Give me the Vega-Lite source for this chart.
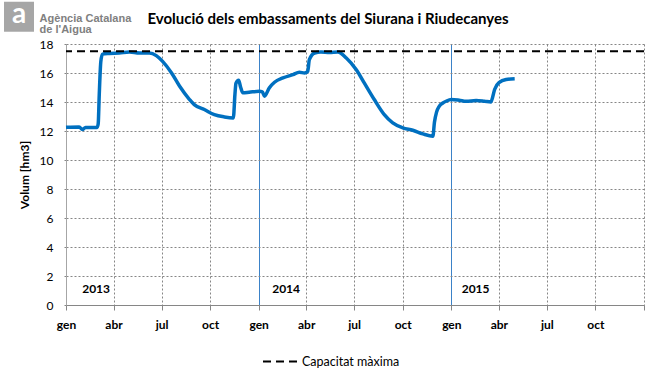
{
  "$schema": "https://vega.github.io/schema/vega-lite/v6.json",
  "width": 578,
  "height": 261,
  "autosize": "none",
  "padding": {"left": 66, "top": 44, "right": 11, "bottom": 74},
  "background": "white",
  "config": {
    "font": "Lato",
    "view": {"stroke": null},
    "axisY": {
      "values": [0, 2, 4, 6, 8, 10, 12, 14, 16, 18],
      "tickCount": 20,
      "labelOverlap": false,
      "labelFontSize": 12,
      "labelColor": "#000000",
      "labelPadding": 9,
      "domainColor": "#a6a6a6",
      "tickColor": "#868686",
      "tickDash": [2, 2],
      "tickSize": 4,
      "grid": true,
      "gridColor": "#868686",
      "gridDash": [2, 2],
      "titleFontSize": 12,
      "titleFontWeight": "bold",
      "titleColor": "#000000",
      "titlePadding": 8
    }
  },
  "title": {
    "text": "Evolució dels embassaments del Siurana i Riudecanyes",
    "anchor": "middle",
    "dx": -27,
    "fontSize": 15,
    "fontWeight": "bold",
    "color": "#000000",
    "offset": -26
  },
  "datasets": {
    "series": [
      {"d": "2013/01/01", "v": 12.25}, {"d": "2013/01/26", "v": 12.28}, {"d": "2013/02/01", "v": 12.1},
      {"d": "2013/02/07", "v": 12.25}, {"d": "2013/03/01", "v": 12.25}, {"d": "2013/03/03", "v": 12.5},
      {"d": "2013/03/05", "v": 14.5}, {"d": "2013/03/08", "v": 16.8}, {"d": "2013/03/11", "v": 17.3},
      {"d": "2013/03/24", "v": 17.35}, {"d": "2013/04/12", "v": 17.38}, {"d": "2013/05/01", "v": 17.45},
      {"d": "2013/05/20", "v": 17.38}, {"d": "2013/06/08", "v": 17.38}, {"d": "2013/06/21", "v": 17.2},
      {"d": "2013/07/03", "v": 16.8}, {"d": "2013/07/20", "v": 16.0}, {"d": "2013/08/04", "v": 15.1},
      {"d": "2013/08/23", "v": 14.17}, {"d": "2013/09/01", "v": 13.82}, {"d": "2013/09/20", "v": 13.48},
      {"d": "2013/10/09", "v": 13.13}, {"d": "2013/10/28", "v": 12.97}, {"d": "2013/11/14", "v": 12.9},
      {"d": "2013/11/17", "v": 14.5}, {"d": "2013/11/19", "v": 15.3}, {"d": "2013/11/24", "v": 15.5},
      {"d": "2013/11/28", "v": 15.0}, {"d": "2013/12/02", "v": 14.63}, {"d": "2013/12/14", "v": 14.67},
      {"d": "2014/01/02", "v": 14.74}, {"d": "2014/01/08", "v": 14.7}, {"d": "2014/01/12", "v": 14.4},
      {"d": "2014/01/21", "v": 14.97}, {"d": "2014/01/31", "v": 15.36}, {"d": "2014/02/16", "v": 15.66},
      {"d": "2014/03/07", "v": 15.89}, {"d": "2014/03/19", "v": 16.05}, {"d": "2014/03/29", "v": 16.0},
      {"d": "2014/04/04", "v": 16.12}, {"d": "2014/04/07", "v": 16.92}, {"d": "2014/04/17", "v": 17.38},
      {"d": "2014/04/29", "v": 17.45}, {"d": "2014/05/15", "v": 17.42}, {"d": "2014/05/31", "v": 17.45},
      {"d": "2014/06/16", "v": 17.04}, {"d": "2014/07/05", "v": 16.23}, {"d": "2014/07/20", "v": 15.32},
      {"d": "2014/08/08", "v": 14.17}, {"d": "2014/08/27", "v": 13.13}, {"d": "2014/09/12", "v": 12.56},
      {"d": "2014/10/01", "v": 12.22}, {"d": "2014/10/20", "v": 12.05}, {"d": "2014/11/08", "v": 11.8},
      {"d": "2014/11/27", "v": 11.64}, {"d": "2014/11/30", "v": 12.6}, {"d": "2014/12/04", "v": 13.3},
      {"d": "2014/12/09", "v": 13.7}, {"d": "2014/12/16", "v": 13.93}, {"d": "2014/12/22", "v": 14.05},
      {"d": "2015/01/01", "v": 14.17}, {"d": "2015/01/16", "v": 14.12}, {"d": "2015/01/29", "v": 14.05},
      {"d": "2015/02/17", "v": 14.1}, {"d": "2015/03/05", "v": 14.05}, {"d": "2015/03/17", "v": 14.0},
      {"d": "2015/03/20", "v": 14.3}, {"d": "2015/03/24", "v": 14.86}, {"d": "2015/04/02", "v": 15.36},
      {"d": "2015/04/15", "v": 15.55}, {"d": "2015/05/01", "v": 15.61}
    ],
    "years": [
      {"d": "2013/02/27", "v": 1.08, "t": "2013"},
      {"d": "2014/02/22", "v": 1.08, "t": "2014"},
      {"d": "2015/02/16", "v": 1.08, "t": "2015"}
    ],
    "logoBox": [{"d": "2012/10/04", "v": 19.88, "t": "a"}],
    "logoText": [
      {"d": "2012/11/12", "v": 19.75, "t": "Agència Catalana"},
      {"d": "2012/11/12", "v": 19.0, "t": "de l'Aigua"}
    ],
    "cap": [{"v": 17.5, "s": "Capacitat màxima"}]
  },
  "layer": [
    {
      "data": {"name": "series"},
      "mark": {"type": "line", "color": "#0070c0", "strokeWidth": 3.5, "interpolate": "monotone"},
      "encoding": {
        "x": {
          "field": "d", "type": "temporal",
          "scale": {"domain": [{"year": 2013, "month": 1, "date": 1}, {"year": 2016, "month": 1, "date": 1}], "nice": false},
          "axis": {
            "title": null,
            "tickCount": {"interval": "month", "step": 3},
            "labelExpr": "year(datum.value) >= 2016 ? '' : ['gen','feb','mar','abr','mai','jun','jul','ago','set','oct','nov','des'][month(datum.value)]",
            "labelFontSize": 12,
            "labelFontWeight": "bold",
            "labelColor": "#000000",
            "labelPadding": 9,
            "labelFlush": false,
            "labelOverlap": false,
            "domainColor": "#868686",
            "tickColor": "#868686",
            "tickSize": 5,
            "grid": true,
            "gridColor": {"condition": {"test": "month(datum.value) == 0 && year(datum.value) > 2013 && year(datum.value) < 2016", "value": "#3b82c8"}, "value": "#868686"},
            "gridDash": {"condition": {"test": "month(datum.value) == 0 && year(datum.value) > 2013 && year(datum.value) < 2016", "value": []}, "value": [2, 2]},
            "gridWidth": 1
          }
        },
        "y": {
          "field": "v", "type": "quantitative",
          "scale": {"domain": [0, 18], "nice": false},
          "axis": {"title": "Volum [hm3]", "values": [0, 2, 4, 6, 8, 10, 12, 14, 16, 18], "tickCount": 20}
        }
      }
    },
    {
      "data": {"name": "cap"},
      "mark": {"type": "rule", "strokeWidth": 2, "strokeDash": [8, 5]},
      "encoding": {
        "y": {"field": "v", "type": "quantitative"},
        "color": {
          "field": "s", "type": "nominal",
          "scale": {"range": ["#000000"]},
          "legend": {
            "title": null,
            "orient": "none",
            "legendX": 196,
            "legendY": 299,
            "symbolType": "stroke",
            "symbolSize": 1225,
            "symbolStrokeWidth": 2,
            "symbolDash": [8, 5],
            "labelFontSize": 12.5,
            "labelColor": "#000000",
            "labelOffset": 3
          }
        }
      }
    },
    {
      "data": {"name": "years"},
      "mark": {"type": "text", "fontSize": 12, "fontWeight": "bold", "color": "#000000"},
      "encoding": {
        "x": {"field": "d", "type": "temporal"},
        "y": {"field": "v", "type": "quantitative"},
        "text": {"field": "t"}
      }
    },
    {
      "data": {"name": "logoBox"},
      "mark": {"type": "square", "size": 900, "filled": true, "color": "#a6a6a6", "opacity": 1, "clip": false},
      "encoding": {
        "x": {"field": "d", "type": "temporal"},
        "y": {"field": "v", "type": "quantitative"}
      }
    },
    {
      "data": {"name": "logoBox"},
      "mark": {"type": "text", "fontSize": 28, "fontWeight": "bold", "color": "white", "baseline": "middle", "dy": -2},
      "encoding": {
        "x": {"field": "d", "type": "temporal"},
        "y": {"field": "v", "type": "quantitative"},
        "text": {"field": "t"}
      }
    },
    {
      "data": {"name": "logoText"},
      "mark": {"type": "text", "font": "Liberation Sans", "fontSize": 11, "fontWeight": "bold", "color": "#808080", "align": "left", "baseline": "middle"},
      "encoding": {
        "x": {"field": "d", "type": "temporal"},
        "y": {"field": "v", "type": "quantitative"},
        "text": {"field": "t"}
      }
    }
  ]
}
